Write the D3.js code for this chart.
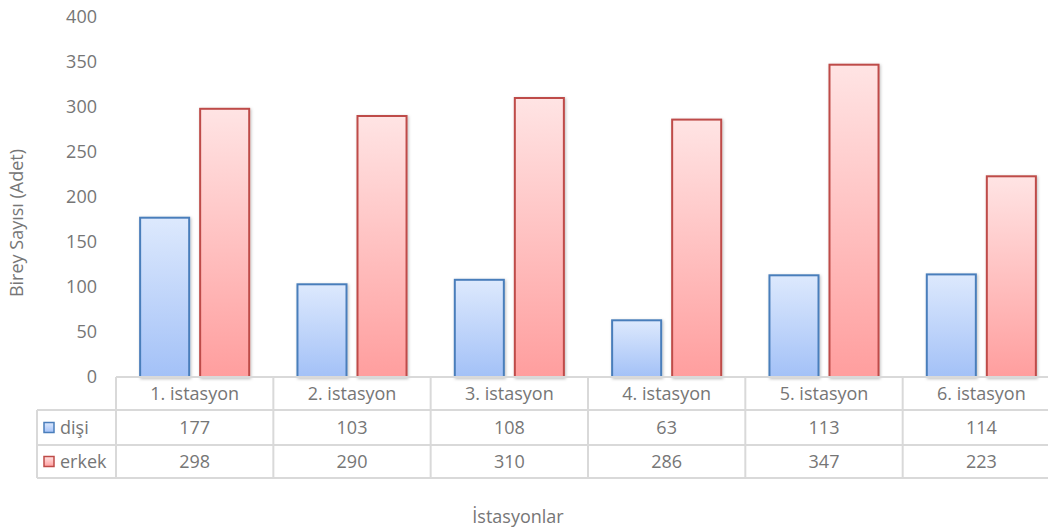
<!DOCTYPE html>
<html><head><meta charset="utf-8">
<script src="https://cdn.jsdelivr.net/npm/d3@7"></script>
<style>body{margin:0;background:#fff}svg{display:block;font-family:"Open Sans",sans-serif}</style>
</head><body>
<svg id="c" width="1048" height="529"></svg>
<script>
const categories = ["1. istasyon","2. istasyon","3. istasyon","4. istasyon","5. istasyon","6. istasyon"];
const seriesNames = ["dişi","erkek"];
const disi = [177,103,108,63,113,114];
const erkek = [298,290,310,286,347,223];
const yTicks = [0,50,100,150,200,250,300,350,400];
const yTitle = "Birey Sayısı (Adet)";
const xTitle = "İstasyonlar";

const values = [disi, erkek];
const svg = d3.select("#c");
const textCol = "#767676", gridCol = "#d9d9d9";
const fs = "18px";
const plotL = 116, plotR = 1060, y0 = 377, yTop = 17;
const rowH = [410, 445, 478];
const legendL = 37;

const x = d3.scaleBand().domain(categories).range([plotL, plotR]).padding(0);
const xi = d3.scaleBand().domain(seriesNames).range([0, x.bandwidth()]).paddingInner(0.183).paddingOuter(0.402);
const y = d3.scaleLinear().domain([0,400]).range([y0, yTop]);

const defs = svg.append("defs");
const grads = [["gB","#dde9fd","#a3c1f7"],["gR","#ffe4e4","#ff9e9e"]];
grads.forEach(([id,a,b])=>{
  const g = defs.append("linearGradient").attr("id",id).attr("x1",0).attr("y1",0).attr("x2",0).attr("y2",1);
  g.append("stop").attr("offset","0%").attr("stop-color",a);
  g.append("stop").attr("offset","100%").attr("stop-color",b);
});
const f = defs.append("filter").attr("id","sh").attr("x","-20%").attr("y","-20%").attr("width","140%").attr("height","140%");
f.append("feDropShadow").attr("dx",1).attr("dy",1).attr("stdDeviation",1.5).attr("flood-color","#000").attr("flood-opacity",0.25);

const strokes = ["#4a7ebb","#be4b48"];
const fills = ["url(#gB)","url(#gR)"];

// y axis
const yAxis = d3.axisLeft(y).tickValues(yTicks).tickSize(0).tickPadding(0);
const ga = svg.append("g").attr("transform","translate(97,0)").call(yAxis);
ga.select(".domain").remove();
ga.selectAll("text").attr("fill",textCol).style("font-size",fs).style("font-family","'Open Sans',sans-serif");

// bars
seriesNames.forEach((s,si)=>{
  svg.append("g").selectAll("rect").data(values[si]).join("rect")
    .attr("x",(d,i)=>x(categories[i])+xi(s))
    .attr("y",d=>y(d))
    .attr("width",xi.bandwidth())
    .attr("height",d=>y0-y(d))
    .attr("fill",fills[si])
    .attr("stroke",strokes[si])
    .attr("stroke-width",2)
    .attr("filter","url(#sh)");
});

// table grid
const grid = svg.append("g").attr("stroke",gridCol).attr("stroke-width",2);
grid.append("line").attr("x1",plotL).attr("x2",plotR).attr("y1",y0).attr("y2",y0);
rowH.forEach(yy=>grid.append("line").attr("x1",legendL).attr("x2",plotR).attr("y1",yy).attr("y2",yy));
categories.forEach(c=>grid.append("line").attr("x1",x(c)).attr("x2",x(c)).attr("y1",y0).attr("y2",rowH[2]));
grid.append("line").attr("x1",plotR).attr("x2",plotR).attr("y1",y0).attr("y2",rowH[2]);
grid.append("line").attr("x1",legendL).attr("x2",legendL).attr("y1",rowH[0]).attr("y2",rowH[2]);

// header labels
svg.append("g").selectAll("text").data(categories).join("text")
  .attr("x",d=>x(d)+x.bandwidth()/2).attr("y",(y0+rowH[0])/2+6)
  .attr("text-anchor","middle").attr("fill",textCol).style("font-size",fs).text(d=>d);

// data rows
seriesNames.forEach((s,si)=>{
  const top = rowH[si], bot = rowH[si+1], mid=(top+bot)/2;
  svg.append("g").selectAll("text").data(values[si]).join("text")
    .attr("x",(d,i)=>x(categories[i])+x.bandwidth()/2).attr("y",mid+6)
    .attr("text-anchor","middle").attr("fill",textCol).style("font-size",fs).text(d=>d);
  svg.append("rect").attr("x",44).attr("y",mid-5).attr("width",10).attr("height",10)
    .attr("fill",fills[si]).attr("stroke",strokes[si]).attr("stroke-width",1.5);
  svg.append("text").attr("x",60).attr("y",mid+6).attr("fill",textCol).style("font-size",fs).text(s);
});

// titles
svg.append("text").attr("transform","translate(23,223) rotate(-90)").attr("text-anchor","middle")
  .attr("fill",textCol).style("font-size","18px").text(yTitle);
svg.append("text").attr("x",518).attr("y",523).attr("text-anchor","middle")
  .attr("fill",textCol).style("font-size",fs).text(xTitle);
</script>
</body></html>
